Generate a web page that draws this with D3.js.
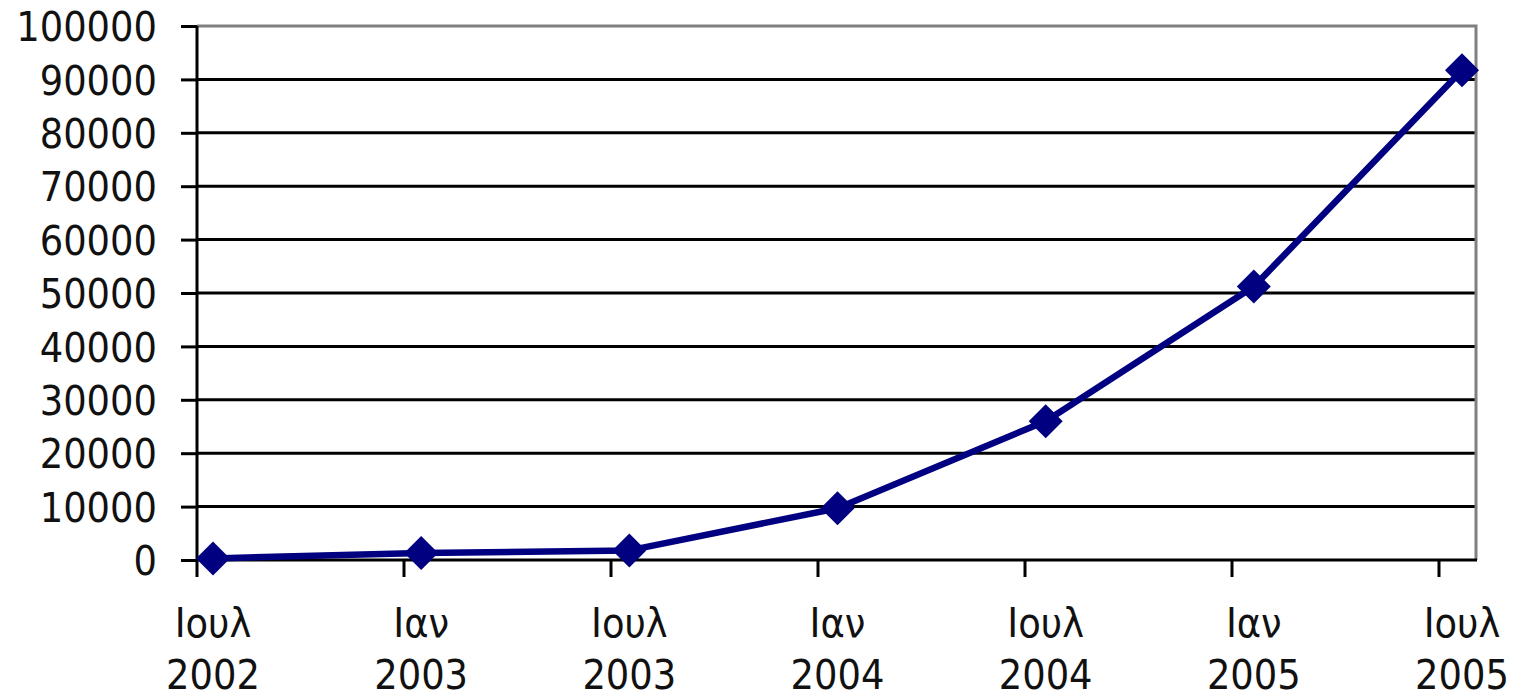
<!DOCTYPE html>
<meta charset="utf-8">
<script src="https://d3js.org/d3.v7.min.js"></script>
<style>
body { margin: 0; background: #fff; }
text { font-family: "DejaVu Sans Condensed", "DejaVu Sans", Verdana, sans-serif; font-stretch: condensed; fill: #111; }
</style>
<body>
<div id="chart"></div>
<script>

// data
const months = ["Ιουλ", "Ιαν", "Ιουλ", "Ιαν", "Ιουλ", "Ιαν", "Ιουλ"];
const years = ["2002", "2003", "2003", "2004", "2004", "2005", "2005"];
const values = [300, 1300, 1800, 9700, 26000, 51200, 91700];
const yTicks = [0, 10000, 20000, 30000, 40000, 50000, 60000, 70000, 80000, 90000, 100000];

const W = 1530, H = 700;
const plotLeft = 197, plotRight = 1476, plotTop = 26, plotBottom = 560;
const font = "DejaVu Sans Condensed, DejaVu Sans, sans-serif";

const svg = d3.select("#chart").append("svg")
    .attr("width", W)
    .attr("height", H);

const y = d3.scaleLinear().domain([0, 100000]).range([plotBottom, plotTop]);
// markers sit a little to the right of the category ticks
const x = d3.scaleLinear().domain([0, 6]).range([213, 1462]);
const xTick = d3.scaleLinear().domain([0, 6]).range([197, 1439]);

// gridlines
svg.append("g").selectAll("line")
  .data(yTicks.slice(1, -1))
  .join("line")
    .attr("x1", plotLeft).attr("x2", plotRight)
    .attr("y1", d => y(d)).attr("y2", d => y(d))
    .attr("stroke", "#000").attr("stroke-width", 3);

// plot frame top/right (grey)
svg.append("path")
    .attr("d", `M${plotLeft},${y(100000)}H${plotRight}V${plotBottom}`)
    .attr("fill", "none").attr("stroke", "#808080").attr("stroke-width", 3);

// y axis
const yAxis = svg.append("g")
    .attr("transform", `translate(${plotLeft},0)`)
    .call(d3.axisLeft(y).tickValues(yTicks).tickFormat(d3.format("d")).tickSize(16).tickPadding(24));
yAxis.select(".domain").attr("stroke", "#000").attr("stroke-width", 3)
    .attr("d", `M0,${plotTop}V${plotBottom + 17}`);
yAxis.selectAll(".tick line").attr("stroke", "#000").attr("stroke-width", 3);
yAxis.selectAll(".tick text").attr("font-size", 41).attr("fill", "#111")
    .attr("font-family", font).attr("dy", "0.36em");

// x axis line + ticks
svg.append("line")
    .attr("x1", plotLeft).attr("x2", plotRight + 1)
    .attr("y1", plotBottom).attr("y2", plotBottom)
    .attr("stroke", "#000").attr("stroke-width", 3);
svg.append("g").selectAll("line")
  .data(d3.range(1, 7))
  .join("line")
    .attr("x1", d => xTick(d)).attr("x2", d => xTick(d))
    .attr("y1", plotBottom).attr("y2", plotBottom + 17)
    .attr("stroke", "#000").attr("stroke-width", 3);

// category labels
const lab = svg.append("g").selectAll("text")
  .data(months)
  .join("text")
    .attr("x", (d, i) => x(i))
    .attr("text-anchor", "middle")
    .attr("font-family", font)
    .attr("font-size", 41);
lab.append("tspan").attr("x", (d, i) => x(i)).attr("y", 637).text(d => d);
lab.append("tspan").attr("x", (d, i) => x(i)).attr("y", 689).text((d, i) => years[i]);

// line
const line = d3.line()
    .x((d, i) => x(i))
    .y(d => y(d));
svg.append("path")
    .datum(values)
    .attr("d", line)
    .attr("fill", "none")
    .attr("stroke", "#000080")
    .attr("stroke-width", 6.5)
    .attr("stroke-linejoin", "round");

// diamond markers
const s = 17;
svg.append("g").selectAll("path")
  .data(values)
  .join("path")
    .attr("transform", (d, i) => `translate(${x(i)},${y(d)})`)
    .attr("d", `M0,${-s}L${s},0L0,${s}L${-s},0Z`)
    .attr("fill", "#000080");

</script>
</body>
